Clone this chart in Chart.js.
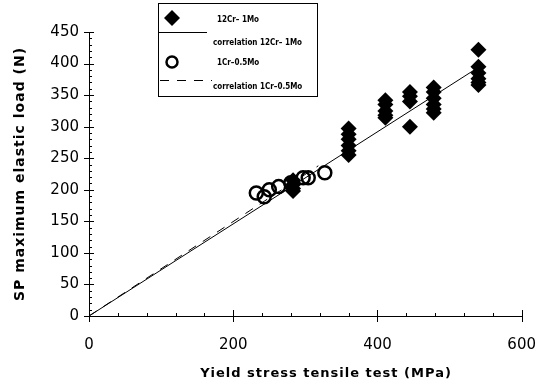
<!DOCTYPE html>
<html>
<head>
<meta charset="utf-8">
<script src="https://cdn.jsdelivr.net/npm/chart.js@4"></script>
<style>
    html, body { margin: 0; padding: 0; background: #fff; }
    #wrap { width: 556px; height: 388px; }
</style>
</head>
<body>
<div id="wrap"><canvas id="spChart" width="556" height="388"></canvas></div>
<script>
// ============================================
// DATA - SP elastic load vs yield stress
// ============================================

// 12Cr-1Mo specimens
const steel12X = [283, 283, 283, 283,
                  360, 360, 360, 360, 360, 360,
                  411, 411, 411, 411, 411,
                  445, 445, 445, 445,
                  478, 478, 478, 478, 478, 478,
                  540, 540, 540, 540, 540, 540];
const steel12Y = [215, 208, 202, 198,
                  297, 288, 280, 270, 262, 255,
                  342, 335, 325, 318, 314,
                  355, 348, 340, 300,
                  362, 355, 345, 335, 328, 322,
                  422, 395, 385, 376, 370, 366];

// 1Cr-0.5Mo specimens
const steel1X = [232, 243, 250, 263, 280, 297, 304, 327];
const steel1Y = [195, 189, 200, 205, 211, 219, 219, 227];

// correlation lines (end points)
const corr12X = [0, 540];
const corr12Y = [0, 394];
const corr1X = [0, 318];
const corr1Y = [0, 238];

// axis ticks
const xMajor = [0, 200, 400, 600];
const yMajor = [0, 50, 100, 150, 200, 250, 300, 350, 400, 450];

const xTitle = 'Yield stress tensile test (MPa)';
const yTitle = 'SP maximum elastic load (N)';

const toPoints = (xs, ys) => xs.map((x, i) => ({ x: x, y: ys[i] }));

// ============================================
// PLUGINS - tick marks, axis titles, boxed legend
// ============================================

const tickMarks = {
    id: 'tickMarks',
    afterDatasetsDraw(chart) {
        const { ctx, scales: { x, y } } = chart;
        const x0 = x.getPixelForValue(0);
        const y0 = y.getPixelForValue(0);
        ctx.save();
        ctx.strokeStyle = '#000';
        ctx.lineWidth = 1;
        ctx.beginPath();
        // x axis: minor every 40, major crosses the axis
        for (let v = 0; v <= 600; v += 40) {
            const px = Math.round(x.getPixelForValue(v)) + 0.5;
            ctx.moveTo(px, y0 - 3);
            ctx.lineTo(px, y0);
        }
        xMajor.forEach(v => {
            const px = Math.round(x.getPixelForValue(v)) + 0.5;
            ctx.moveTo(px, y0 - 6);
            ctx.lineTo(px, y0 + 6);
        });
        // y axis: minor every 10 inside, major crosses the axis
        for (let v = 0; v <= 450; v += 10) {
            const py = Math.round(y.getPixelForValue(v)) + 0.5;
            ctx.moveTo(x0, py);
            ctx.lineTo(x0 + 3, py);
        }
        yMajor.forEach(v => {
            const py = Math.round(y.getPixelForValue(v)) + 0.5;
            ctx.moveTo(x0 - 5, py);
            ctx.lineTo(x0 + 5, py);
        });
        ctx.stroke();
        ctx.restore();
    }
};

const axisTitles = {
    id: 'axisTitles',
    afterDraw(chart) {
        const { ctx, chartArea } = chart;
        ctx.save();
        ctx.fillStyle = '#000';
        ctx.textAlign = 'center';
        ctx.textBaseline = 'middle';
        ctx.letterSpacing = '1px';
        ctx.font = 'bold 13px "DejaVu Sans"';
        ctx.fillText(xTitle, 326, 374);

        ctx.translate(20, (chartArea.top + chartArea.bottom) / 2);
        ctx.rotate(-Math.PI / 2);
        ctx.font = 'bold 14px "DejaVu Sans"';
        ctx.fillText(yTitle, 0, 0);
        ctx.restore();
    }
};

const boxLegend = {
    id: 'boxLegend',
    afterDraw(chart) {
        const ctx = chart.ctx;
        const left = 158, top = 3, right = 317, bottom = 96;
        ctx.save();
        ctx.fillStyle = '#fff';
        ctx.fillRect(left, top, right - left, bottom - top);
        ctx.strokeStyle = '#000';
        ctx.lineWidth = 1;
        ctx.strokeRect(left + 0.5, top + 0.5, right - left, bottom - top);

        // diamond marker
        ctx.fillStyle = '#000';
        ctx.beginPath();
        ctx.moveTo(172, 10);
        ctx.lineTo(180, 18);
        ctx.lineTo(172, 26);
        ctx.lineTo(164, 18);
        ctx.closePath();
        ctx.fill();

        // solid correlation line
        ctx.beginPath();
        ctx.moveTo(159, 32.5);
        ctx.lineTo(207, 32.5);
        ctx.stroke();

        // open circle marker
        ctx.lineWidth = 2.5;
        ctx.beginPath();
        ctx.arc(172, 62, 5.5, 0, Math.PI * 2);
        ctx.stroke();

        // dashed correlation line
        ctx.lineWidth = 1;
        ctx.setLineDash([9, 8]);
        ctx.beginPath();
        ctx.moveTo(160, 80.5);
        ctx.lineTo(212, 80.5);
        ctx.stroke();
        ctx.setLineDash([]);

        ctx.fillStyle = '#000';
        ctx.font = 'bold 8px "DejaVu Sans Condensed", "DejaVu Sans"';
        ctx.textBaseline = 'middle';
        ctx.fillText('12Cr\u2013 1Mo', 217, 20);
        ctx.fillText('correlation 12Cr\u2013 1Mo', 213, 43);
        ctx.fillText('1Cr\u20130.5Mo', 217, 63);
        ctx.fillText('correlation 1Cr\u20130.5Mo', 213, 87);
        ctx.restore();
    }
};

// ============================================
// CHART
// ============================================

new Chart(document.getElementById('spChart'), {
    type: 'scatter',
    data: {
        datasets: [
            {
                label: 'correlation 12Cr-1Mo',
                type: 'line',
                data: toPoints(corr12X, corr12Y),
                borderColor: '#000',
                borderWidth: 1,
                pointRadius: 0,
                fill: false
            },
            {
                label: 'correlation 1Cr-0.5Mo',
                type: 'line',
                data: toPoints(corr1X, corr1Y),
                borderColor: '#000',
                borderWidth: 1,
                borderDash: [9, 8],
                pointRadius: 0,
                fill: false
            },
            {
                label: '1Cr-0.5Mo',
                data: toPoints(steel1X, steel1Y),
                pointStyle: 'circle',
                pointRadius: 6.5,
                pointBorderWidth: 2.5,
                pointBorderColor: '#000',
                pointBackgroundColor: 'rgba(0,0,0,0)'
            },
            {
                label: '12Cr-1Mo',
                data: toPoints(steel12X, steel12Y),
                pointStyle: 'rectRot',
                pointRadius: 8,
                pointBorderWidth: 0,
                pointBackgroundColor: '#000',
                pointBorderColor: '#000'
            }
        ]
    },
    options: {
        responsive: false,
        animation: false,
        layout: { padding: { top: 32, right: 25, left: 0, bottom: 0 } },
        plugins: {
            legend: { display: false },
            tooltip: { enabled: false }
        },
        scales: {
            x: {
                type: 'linear',
                min: 0,
                max: 600,
                afterFit: (scale) => { scale.height = 72; },
                grid: { display: false, drawTicks: false },
                border: { display: true, color: '#000', width: 1 },
                ticks: {
                    stepSize: 200,
                    padding: 20,
                    color: '#000',
                    font: { family: '"DejaVu Sans"', size: 15 },
                    maxRotation: 0
                }
            },
            y: {
                type: 'linear',
                min: 0,
                max: 450,
                afterFit: (scale) => { scale.width = 89; },
                grid: { display: false, drawTicks: false },
                border: { display: true, color: '#000', width: 1 },
                ticks: {
                    stepSize: 50,
                    padding: 10,
                    color: '#000',
                    font: { family: '"DejaVu Sans"', size: 15 }
                }
            }
        }
    },
    plugins: [tickMarks, axisTitles, boxLegend]
});
</script>
</body>
</html>
